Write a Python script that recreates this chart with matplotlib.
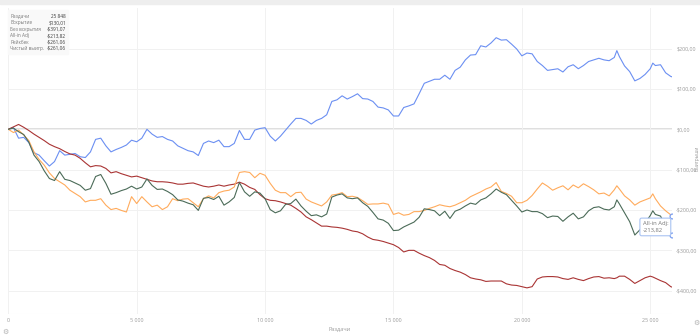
import matplotlib.pyplot as plt
from matplotlib.patches import Rectangle

plt.rcParams['font.family'] = ['Open Sans', 'DejaVu Sans']

# hands played (x) and cumulative results in $ for each line
hands = [0, 200, 400, 600, 800, 1000, 1200, 1400, 1600, 1800,
         2000, 2200, 2400, 2600, 2800, 3000, 3200, 3400, 3600, 3800,
         4000, 4200, 4400, 4600, 4800, 5000, 5200, 5400, 5600, 5800,
         6000, 6200, 6400, 6600, 6800, 7000, 7200, 7400, 7600, 7800,
         8000, 8200, 8400, 8600, 8800, 9000, 9200, 9400, 9600, 9800,
         10000, 10200, 10400, 10600, 10800, 11000, 11200, 11400, 11600, 11800,
         12000, 12200, 12400, 12600, 12800, 13000, 13200, 13400, 13600, 13800,
         14000, 14200, 14400, 14600, 14800, 15000, 15200, 15400, 15600, 15800,
         16000, 16200, 16400, 16600, 16800, 17000, 17200, 17400, 17600, 17800,
         18000, 18200, 18400, 18600, 18800, 19000, 19200, 19400, 19600, 19800,
         20000, 20200, 20400, 20600, 20800, 21000, 21200, 21400, 21600, 21800,
         22000, 22200, 22400, 22600, 22800,
         23000, 23200, 23400, 23600, 23700, 23800, 24000, 24200, 24400, 24600,
         24800, 25000, 25100, 25200, 25400, 25600, 25800, 25848]

showdown = [0, 4, -22, -20, -33, -58, -64, -78, -91, -80,
            -53, -64, -62, -60, -68, -70, -56, -25, -22, -41,
            -56, -50, -45, -39, -27, -31, -22, 0, -12, -20,
            -18, -25, -29, -41, -47, -53, -56, -65, -35, -29,
            -33, -27, -43, -43, -35, -3, -25, -25, -2, 2,
            4, -17, -29, -17, -2, 13, 27, 27, 22, 13,
            22, 27, 36, 69, 73, 83, 75, 81, 88, 76,
            75, 69, 55, 53, 48, 33, 33, 54, 58, 63,
            88, 114, 119, 124, 124, 134, 124, 146, 154, 172,
            184, 185, 207, 204, 214, 227, 221, 222, 211, 199,
            182, 189, 187, 168, 158, 146, 148, 150, 142, 155,
            160, 150, 158, 168, 172,
            176, 172, 170, 178, 195, 180, 157, 143, 120, 126,
            136, 150, 164, 158, 160, 140, 131, 130.01]

non_showdown = [0, 6, 12, 5, -3, -12, -20, -28, -37, -43,
                -48, -55, -61, -64, -72, -83, -93, -90, -91, -97,
                -108, -105, -110, -114, -118, -116, -120, -124, -128, -130,
                -130, -131, -133, -136, -136, -134, -133, -137, -141, -143,
                -141, -138, -141, -138, -136, -131, -136, -144, -149, -162,
                -172, -176, -177, -180, -184, -188, -196, -205, -217, -224,
                -232, -240, -240, -242, -243, -245, -248, -252, -254, -259,
                -267, -273, -275, -278, -282, -286, -293, -304, -300, -300,
                -307, -313, -318, -325, -335, -337, -345, -350, -354, -360,
                -368, -371, -373, -377, -376, -376, -376, -383, -386, -387,
                -390, -393, -390, -371, -366, -365, -365, -366, -370, -372,
                -368, -372, -375, -370, -366,
                -365, -369, -368, -370, -368, -364, -364, -372, -382, -375,
                -368, -364, -366, -369, -375, -380, -390, -391.07]

allin_adj = [0, -8, -2, -14, -28, -56, -75, -89, -108, -122,
             -130, -138, -151, -159, -167, -180, -176, -176, -172, -188,
             -199, -196, -201, -205, -167, -184, -167, -180, -192, -188,
             -199, -192, -172, -177, -173, -172, -182, -192, -172, -165,
             -170, -157, -153, -151, -143, -107, -105, -107, -120, -109,
             -114, -134, -151, -157, -157, -167, -157, -156, -173, -180,
             -185, -190, -180, -163, -161, -157, -167, -166, -169, -177,
             -186, -185, -185, -183, -186, -211, -207, -213, -211, -204,
             -204, -201, -196, -192, -187, -190, -192, -188, -182, -176,
             -167, -161, -155, -148, -143, -132, -154, -159, -166, -182,
             -182, -176, -164, -148, -133, -141, -151, -145, -140, -150,
             -138, -145, -135, -142, -150,
             -160, -158, -165, -150, -140, -148, -165, -175, -188, -180,
             -175, -170, -160, -172, -190, -202, -212, -213.82]

net_won = [0, 3, -6, -13, -32, -64, -80, -103, -122, -127,
           -105, -124, -127, -133, -139, -151, -147, -117, -112, -134,
           -161, -157, -152, -148, -141, -148, -143, -123, -139, -149,
           -148, -154, -162, -175, -178, -183, -187, -201, -171, -169,
           -174, -166, -188, -180, -169, -132, -155, -166, -155, -158,
           -172, -199, -207, -202, -186, -184, -173, -190, -203, -214,
           -212, -217, -210, -168, -163, -160, -170, -172, -170, -182,
           -191, -206, -222, -225, -233, -251, -250, -242, -236, -230,
           -218, -197, -199, -202, -214, -203, -221, -203, -198, -190,
           -183, -186, -175, -170, -160, -148, -156, -162, -176, -190,
           -205, -200, -204, -204, -209, -219, -215, -216, -228, -217,
           -208, -222, -217, -202, -194,
           -192, -198, -200, -192, -175, -185, -207, -229, -262, -249,
           -232, -214, -202, -211, -215, -240, -259, -261.06]

stat_labels = ['Раздачи', 'Вскрытие', 'Без вскрытия', 'All-in Adj', 'Рейкбек', 'Чистый выигр.']
stat_values = ['25 848', '$130,01', '-$391,07', '-$213,82', '-$261,06', '-$261,06']

x_ticks = [0, 5000, 10000, 15000, 20000, 25000]
y_ticks = [-400, -300, -200, -100, 0, 100, 200]

W, H = 700, 336
fig = plt.figure(figsize=(W / 100, H / 100), dpi=100)
fig.patch.set_facecolor('white')

# thin grey strip along the top
fig.patches.append(Rectangle((0, 1 - 4 / H), 1, 4 / H, transform=fig.transFigure,
                             color='#eeeeee', zorder=0))

left, right, top, bottom = 8.3, 672, 8, 314.3
ax = fig.add_axes([left / W, 1 - bottom / H, (right - left) / W, (bottom - top) / H])
ax.set_xlim(0, 25848)
ax.set_ylim(-458.5, 300.6)

for s in ax.spines.values():
    s.set_visible(False)
ax.axhline(-458.5, color='#eeeeee', lw=0.8, zorder=0)

ax.set_xticks(x_ticks)
ax.set_xticklabels([f'{v:,}'.replace(',', ' ') for v in x_ticks])
ax.set_yticks(y_ticks)
ax.set_yticklabels([('-' if v < 0 else '') + f'${abs(v)},00' for v in y_ticks])
ax.yaxis.tick_right()
ax.tick_params(axis='both', length=0, labelsize=3.9, labelcolor='#9a9a9a')
ax.tick_params(axis='x', pad=2.5)
ax.tick_params(axis='y', pad=3)
ax.grid(True, color='#f1f1f1', lw=0.7, zorder=0)
ax.axhline(0, color='#dcdcdc', lw=1.3, zorder=1)

ax.plot(hands, showdown, color='#6b8ff2', lw=0.8, zorder=3)
ax.plot(hands, non_showdown, color='#a93434', lw=0.8, zorder=3)
ax.plot(hands, allin_adj, color='#ffab5c', lw=0.8, zorder=3)
ax.plot(hands, net_won, color='#4b6b58', lw=0.8, zorder=4)

# hover markers at the end of the lines (clipped by the plot edge)
ax.plot(hands[-1], allin_adj[-1], 'o', ms=3.5, mfc='white', mec='#7b9ff0', mew=0.9, zorder=5)
ax.plot(hands[-1], net_won[-1], 'o', ms=3.5, mfc='white', mec='#7b9ff0', mew=0.9, zorder=5)

# tooltip
ax.text(24700, -242, 'All-in Adj:\n' + stat_values[3].replace('$', ''), fontsize=4.2,
        color='#777777', ha='left', va='center', linespacing=1.6, zorder=6,
        bbox=dict(boxstyle='round,pad=0.45,rounding_size=0.3', fc='white',
                  ec='#a9c3f2', lw=0.8))

# summary table in the corner
fig.patches.append(Rectangle((8 / W, 1 - 54 / H), 60 / W, 44 / H, transform=fig.transFigure,
                             color='#f9f9f9', zorder=2))
for i, (lab, val) in enumerate(zip(stat_labels, stat_values)):
    y = 1 - (16.5 + 6.4 * i) / H
    fig.text(10.5 / W, y, lab, fontsize=3.4, color='#7a7a7a', va='center', ha='left', zorder=3)
    fig.text(66 / W, y, val, fontsize=3.4, color='#3a3a3a', va='center', ha='right', zorder=3)

fig.text(340 / W, 1 - 329.5 / H, 'Раздачи', fontsize=4, color='#9a9a9a', ha='center', va='center')
fig.text(697.5 / W, 1 - 158 / H, 'Выигрыши', fontsize=3.4, color='#9a9a9a', ha='center',
         va='center', rotation=90)
fig.text(5 / W, 1 - 332 / H, '⚙', fontsize=5, color='#b0b0b0', ha='center', va='center',
         family='DejaVu Sans')
fig.text(696 / W, 1 - 323 / H, '⚙', fontsize=5, color='#b0b0b0', ha='center', va='center',
         family='DejaVu Sans')

fig.savefig('out.png', dpi=100)
